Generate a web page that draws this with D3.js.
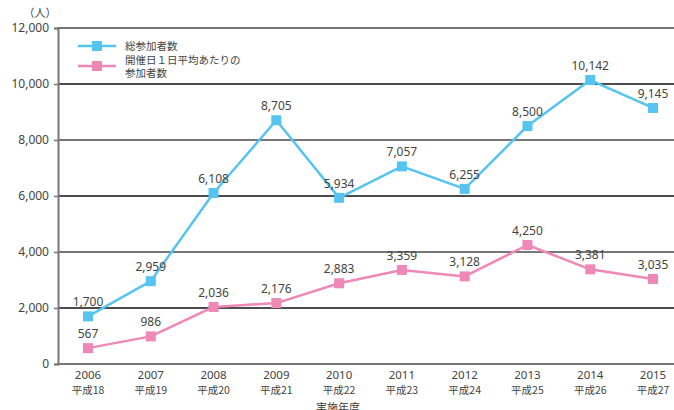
<!DOCTYPE html>
<html lang="ja">
<head>
<meta charset="UTF-8">
<title>参加者数の推移</title>
<script src="https://d3js.org/d3.v7.min.js"></script>
<style>
    body { margin: 0; padding: 0; background: #fff; }
    svg { font-family: "Noto Sans CJK JP", "Noto Sans", sans-serif; }
</style>
</head>
<body>
<svg width="674" height="410"></svg>
<script>
    const years = ["2006", "2007", "2008", "2009", "2010", "2011", "2012", "2013", "2014", "2015"];
    const eras = ["平成18", "平成19", "平成20", "平成21", "平成22", "平成23", "平成24", "平成25", "平成26", "平成27"];
    const total = [1700, 2959, 6108, 8705, 5934, 7057, 6255, 8500, 10142, 9145];
    const perDay = [567, 986, 2036, 2176, 2883, 3359, 3128, 4250, 3381, 3035];
    const yTicks = [0, 2000, 4000, 6000, 8000, 10000, 12000];

    const blue = "#55c4f0";
    const pink = "#ee88b6";
    const textColor = "#444";

    const svg = d3.select("svg");

    const x = d3.scalePoint()
        .domain(years)
        .range([88, 653]);

    const y = d3.scaleLinear()
        .domain([0, 12000])
        .range([364, 28]);

    // gridlines, alternating gray / black
    svg.append("g")
        .selectAll("line")
        .data(yTicks.filter(d => d > 0))
        .join("line")
        .attr("x1", 58)
        .attr("x2", 674)
        .attr("y1", d => y(d))
        .attr("y2", d => y(d))
        .attr("stroke", d => (d / 2000) % 2 === 1 ? "#111" : "#777")
        .attr("stroke-width", d => (d / 2000) % 2 === 1 ? 1.3 : 2);

    // y axis
    const yAxis = svg.append("g")
        .attr("transform", "translate(58,0)")
        .call(d3.axisLeft(y).tickValues(yTicks).tickSize(4).tickPadding(5).tickFormat(d3.format(",")));
    yAxis.select(".domain").attr("stroke", "#777").attr("stroke-width", 2);
    yAxis.selectAll(".tick line").attr("stroke", "#777").attr("stroke-width", 1.5);
    yAxis.selectAll(".tick text")
        .attr("fill", textColor)
        .attr("font-size", 12)
        .attr("font-family", "'Noto Sans', sans-serif");

    // bottom axis line
    svg.append("line")
        .attr("x1", 57)
        .attr("x2", 674)
        .attr("y1", y(0))
        .attr("y2", y(0))
        .attr("stroke", "#777")
        .attr("stroke-width", 2);

    // x labels
    const xl = svg.append("g");
    xl.selectAll("text.yr")
        .data(years)
        .join("text")
        .attr("class", "yr")
        .attr("x", d => x(d))
        .attr("y", 379)
        .attr("text-anchor", "middle")
        .attr("font-size", 11.5)
        .attr("font-family", "'Noto Sans', sans-serif")
        .attr("fill", textColor)
        .text(d => d);
    xl.selectAll("text.era")
        .data(years)
        .join("text")
        .attr("class", "era")
        .attr("x", d => x(d))
        .attr("y", 394)
        .attr("text-anchor", "middle")
        .attr("font-size", 10.5)
        .attr("fill", textColor)
        .text((d, i) => eras[i]);

    svg.append("text")
        .attr("x", 338)
        .attr("y", 412)
        .attr("text-anchor", "middle")
        .attr("font-size", 11)
        .attr("fill", textColor)
        .text("実施年度");

    svg.append("text")
        .attr("x", 40)
        .attr("y", 17)
        .attr("text-anchor", "middle")
        .attr("font-size", 11)
        .attr("fill", textColor)
        .text("（人）");

    const line = d3.line()
        .x((d, i) => x(years[i]))
        .y(d => y(d));

    function drawSeries(values, color, labelDy) {
        svg.append("path")
            .datum(values)
            .attr("d", line)
            .attr("fill", "none")
            .attr("stroke", color)
            .attr("stroke-width", 2.5)
            .attr("stroke-linejoin", "round");
        svg.append("g")
            .selectAll("rect")
            .data(values)
            .join("rect")
            .attr("x", (d, i) => x(years[i]) - 5)
            .attr("y", d => y(d) - 5)
            .attr("width", 10)
            .attr("height", 10)
            .attr("fill", color);
        svg.append("g")
            .selectAll("text")
            .data(values)
            .join("text")
            .attr("x", (d, i) => x(years[i]))
            .attr("y", d => y(d) - labelDy)
            .attr("text-anchor", "middle")
            .attr("font-size", 12)
            .attr("font-family", "'Noto Sans', sans-serif")
            .attr("fill", textColor)
            .text(d => d3.format(",")(d));
    }

    drawSeries(total, blue, 10);
    drawSeries(perDay, pink, 10);

    // legend
    const legend = svg.append("g");
    const items = [
        { color: blue, y: 46, lines: ["総参加者数"] },
        { color: pink, y: 66, lines: ["開催日１日平均あたりの", "参加者数"] }
    ];
    items.forEach(it => {
        legend.append("line")
            .attr("x1", 78).attr("x2", 116)
            .attr("y1", it.y).attr("y2", it.y)
            .attr("stroke", it.color).attr("stroke-width", 2.5);
        legend.append("rect")
            .attr("x", 92).attr("y", it.y - 5)
            .attr("width", 10).attr("height", 10)
            .attr("fill", it.color);
        it.lines.forEach((t, j) => {
            legend.append("text")
                .attr("x", 125)
                .attr("y", it.y - (it.lines.length - 1) * 6.5 + j * 13.5 + 4)
                .attr("font-size", 10.5)
                .attr("fill", textColor)
                .text(t);
        });
    });
</script>
</body>
</html>
